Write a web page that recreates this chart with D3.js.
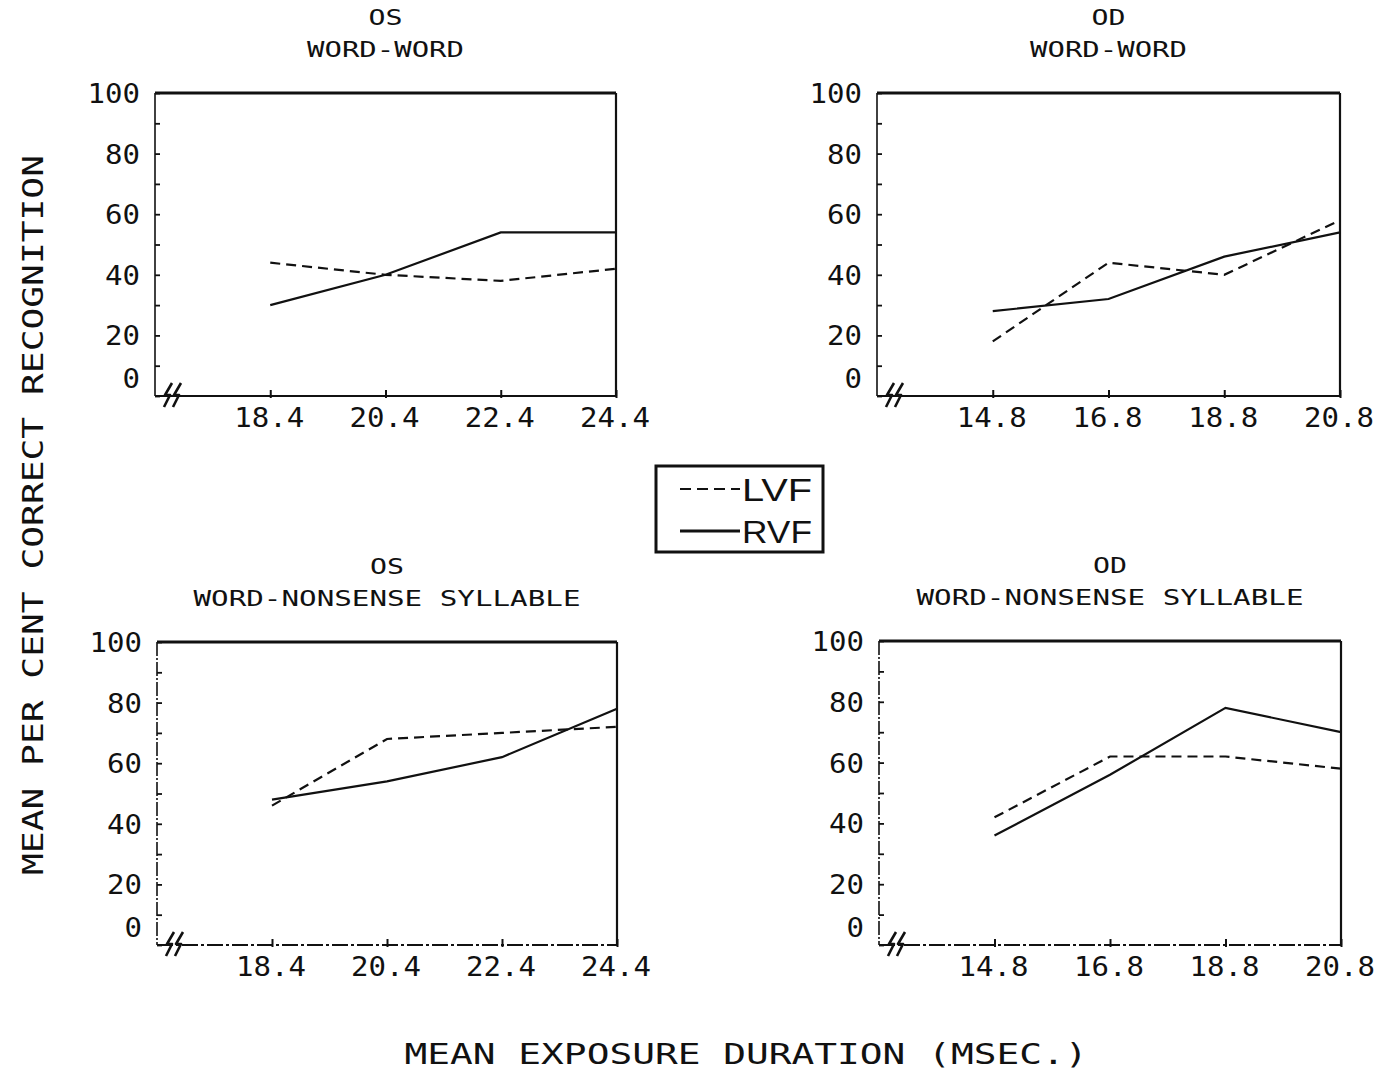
<!DOCTYPE html>
<html>
<head>
<meta charset="utf-8">
<script src="https://cdn.jsdelivr.net/npm/d3@7"></script>
<style>
  html, body { margin: 0; padding: 0; background: #fff; }
  svg { display: block; }
  .mono { font-family: "DejaVu Sans Mono", monospace; fill: #111; }
  .sans { font-family: "Liberation Sans", Arial, sans-serif; fill: #111; }
</style>
</head>
<body>
<svg id="chart" width="1381" height="1071"></svg>
<script>
// ---------- data ----------
const xTicksOS = [18.4, 20.4, 22.4, 24.4];
const xTicksOD = [14.8, 16.8, 18.8, 20.8];
const xLabelsOS = ["18.4", "20.4", "22.4", "24.4"];
const xLabelsOD = ["14.8", "16.8", "18.8", "20.8"];
const yTicks = [0, 20, 40, 60, 80, 100];
const yLabels = ["0", "20", "40", "60", "80", "100"];

const lvfOSWord = [44, 40, 38, 42];
const rvfOSWord = [30, 40, 54, 54];
const lvfODWord = [18, 44, 40, 58];
const rvfODWord = [28, 32, 46, 54];
const lvfOSNonsense = [46, 68, 70, 72];
const rvfOSNonsense = [48, 54, 62, 78];
const lvfODNonsense = [42, 62, 62, 58];
const rvfODNonsense = [36, 56, 78, 70];

const legendLabels = ["LVF", "RVF"];
const yTitle = "MEAN PER CENT CORRECT RECOGNITION";
const xTitle = "MEAN EXPOSURE DURATION (MSEC.)";

// ---------- drawing ----------
const svg = d3.select("#chart");
const ink = "#111";

const panels = [
  { l: 155, r: 616, t: 93, b: 396, dom: [16.4, 24.4], ticks: xTicksOS, labels: xLabelsOS,
    lvf: lvfOSWord, rvf: rvfOSWord, t1: "OS", t2: "WORD-WORD", t2w: 157, dashedBase: false },
  { l: 877, r: 1340, t: 93, b: 396, dom: [12.8, 20.8], ticks: xTicksOD, labels: xLabelsOD,
    lvf: lvfODWord, rvf: rvfODWord, t1: "OD", t2: "WORD-WORD", t2w: 157, dashedBase: false },
  { l: 157, r: 617, t: 642, b: 945, dom: [16.4, 24.4], ticks: xTicksOS, labels: xLabelsOS,
    lvf: lvfOSNonsense, rvf: rvfOSNonsense, t1: "OS", t2: "WORD-NONSENSE SYLLABLE", t2w: 387, dashedBase: true },
  { l: 879, r: 1341, t: 641, b: 945, dom: [12.8, 20.8], ticks: xTicksOD, labels: xLabelsOD,
    lvf: lvfODNonsense, rvf: rvfODNonsense, t1: "OD", t2: "WORD-NONSENSE SYLLABLE", t2w: 387, dashedBase: true }
];

panels.forEach(p => {
  const g = svg.append("g");
  const x = d3.scaleLinear().domain(p.dom).range([p.l, p.r]);
  const y = d3.scaleLinear().domain([0, 100]).range([p.b, p.t]);
  const cx = (p.l + p.r) / 2;

  // titles
  g.append("text").attr("class", "mono").attr("x", cx).attr("y", p.t - 68)
    .attr("text-anchor", "middle").attr("font-size", 22)
    .attr("textLength", 34).attr("lengthAdjust", "spacingAndGlyphs").text(p.t1);
  g.append("text").attr("class", "mono").attr("x", cx).attr("y", p.t - 36)
    .attr("text-anchor", "middle").attr("font-size", 22)
    .attr("textLength", p.t2w).attr("lengthAdjust", "spacingAndGlyphs").text(p.t2);

  // frame
  g.append("line").attr("x1", p.l).attr("x2", p.r).attr("y1", p.t).attr("y2", p.t)
    .attr("stroke", ink).attr("stroke-width", 3);
  g.append("line").attr("x1", p.r).attr("x2", p.r).attr("y1", p.t).attr("y2", p.b)
    .attr("stroke", ink).attr("stroke-width", 2.2);
  g.append("line").attr("x1", p.l).attr("x2", p.l).attr("y1", p.t).attr("y2", p.b)
    .attr("stroke", ink).attr("stroke-width", 1.6)
    .attr("stroke-dasharray", p.dashedBase ? "14,2,2,2" : null);
  g.append("line").attr("x1", p.l).attr("x2", p.r).attr("y1", p.b).attr("y2", p.b)
    .attr("stroke", ink).attr("stroke-width", 2)
    .attr("stroke-dasharray", p.dashedBase ? "16,3,3,3" : null);

  // y axis ticks (inward) + labels
  const yAxis = d3.axisRight(y).tickValues(d3.range(0, 101, 10)).tickSize(5).tickFormat("");
  const ya = g.append("g").attr("transform", `translate(${p.l},0)`).call(yAxis);
  ya.select(".domain").remove();
  ya.selectAll(".tick line").attr("stroke", ink).attr("stroke-width", 1.8);

  yTicks.forEach((v, i) => {
    const yy = v === 0 ? y(v) - 18 : y(v);
    g.append("text").attr("class", "mono")
      .attr("x", p.l - 15).attr("y", yy + 10)
      .attr("text-anchor", "end").attr("font-size", 27)
      .attr("textLength", yLabels[i].length * 17.5).attr("lengthAdjust", "spacingAndGlyphs")
      .text(yLabels[i]);
  });

  // x axis ticks + labels
  const xAxis = d3.axisTop(x).tickValues(p.ticks).tickSize(8).tickFormat("");
  const xa = g.append("g").attr("transform", `translate(0,${p.b + 2})`).call(xAxis);
  xa.select(".domain").remove();
  xa.selectAll(".tick line").attr("stroke", ink).attr("stroke-width", 2);

  p.ticks.forEach((v, i) => {
    g.append("text").attr("class", "mono")
      .attr("x", x(v) - 1).attr("y", p.b + 31)
      .attr("text-anchor", "middle").attr("font-size", 27)
      .attr("textLength", 70).attr("lengthAdjust", "spacingAndGlyphs")
      .text(p.labels[i]);
  });

  // axis break mark
  const bx = p.l + 9, by = p.b;
  g.append("path")
    .attr("d", `M${bx},${by + 11} L${bx + 6},${by - 1} L${bx + 1},${by - 1} L${bx + 8},${by - 13}` +
               ` M${bx + 9},${by + 11} L${bx + 15},${by - 1} L${bx + 10},${by - 1} L${bx + 17},${by - 13}`)
    .attr("fill", "none").attr("stroke", ink).attr("stroke-width", 2.6).attr("stroke-linejoin", "round");

  // data lines
  const line = d3.line().x((d, i) => x(p.ticks[i])).y(d => y(d));
  g.append("path").datum(p.lvf).attr("d", line)
    .attr("fill", "none").attr("stroke", ink).attr("stroke-width", 2.2)
    .attr("stroke-dasharray", "10,6");
  g.append("path").datum(p.rvf).attr("d", line)
    .attr("fill", "none").attr("stroke", ink).attr("stroke-width", 2.2);
});

// legend
const lg = svg.append("g");
lg.append("rect").attr("x", 656).attr("y", 466).attr("width", 167).attr("height", 86)
  .attr("fill", "none").attr("stroke", ink).attr("stroke-width", 3);
lg.append("line").attr("x1", 680).attr("x2", 740).attr("y1", 489).attr("y2", 489)
  .attr("stroke", ink).attr("stroke-width", 2).attr("stroke-dasharray", "11,6");
lg.append("line").attr("x1", 680).attr("x2", 740).attr("y1", 531).attr("y2", 531)
  .attr("stroke", ink).attr("stroke-width", 3);
lg.append("text").attr("class", "sans").attr("x", 742).attr("y", 501)
  .attr("font-size", 31).attr("textLength", 70).attr("lengthAdjust", "spacingAndGlyphs").text(legendLabels[0]);
lg.append("text").attr("class", "sans").attr("x", 742).attr("y", 543)
  .attr("font-size", 31).attr("textLength", 70).attr("lengthAdjust", "spacingAndGlyphs").text(legendLabels[1]);

// axis titles
svg.append("text").attr("class", "mono")
  .attr("transform", "translate(43,515) rotate(-90)")
  .attr("text-anchor", "middle").attr("font-size", 29)
  .attr("textLength", 720).attr("lengthAdjust", "spacingAndGlyphs").text(yTitle);
svg.append("text").attr("class", "mono")
  .attr("x", 746).attr("y", 1064)
  .attr("text-anchor", "middle").attr("font-size", 28)
  .attr("textLength", 683).attr("lengthAdjust", "spacingAndGlyphs").text(xTitle);
</script>
</body>
</html>
